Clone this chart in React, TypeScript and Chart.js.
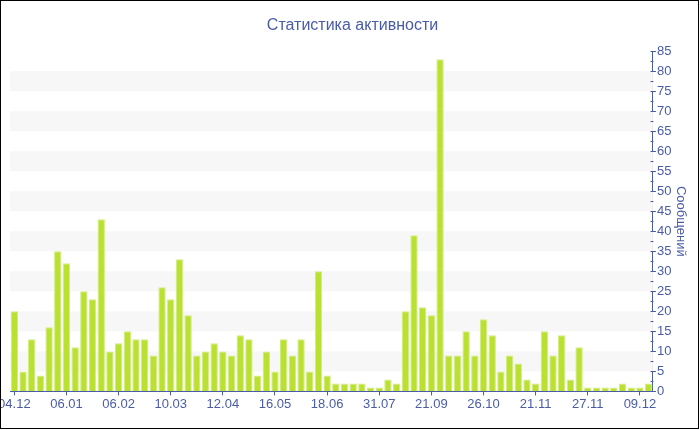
import React, { useEffect, useRef } from "react";
import { Chart, registerables } from "chart.js";

Chart.register(...registerables);

const chartTitle = "Статистика активности";
const yAxisTitle = "Сообщений";
const tickLabels = ["04.12", "06.01", "06.02", "10.03", "12.04", "16.05", "18.06", "31.07", "21.09", "26.10", "21.11", "27.11", "09.12"];
const labelEvery = 6;
const messages = [
  20, 5, 13, 4, 16, 35, 32, 11, 25, 23, 43, 10, 12, 15, 13, 13, 9, 26, 23, 33,
  19, 9, 10, 12, 10, 9, 14, 13, 4, 10, 5, 13, 9, 13, 5, 30, 4, 2, 2, 2,
  2, 1, 1, 3, 2, 20, 39, 21, 19, 83, 9, 9, 15, 9, 18, 14, 5, 9, 7, 3,
  2, 15, 9, 14, 3, 11, 1, 1, 1, 1, 2, 1, 1, 2,
];
const categories = messages.map((_, i) => (i % labelEvery === 0 ? tickLabels[i / labelEvery] : ""));
const yMin = 0;
const yMax = 85;
const yStep = 5;

const AXIS = "#4a5ca8";
const FONT = "'Liberation Sans', Arial, sans-serif";

const bandsPlugin = {
  id: "bands",
  beforeDatasetsDraw(chart: any) {
    const { ctx, chartArea, scales } = chart;
    const y = scales.y;
    ctx.save();
    ctx.fillStyle = "#f7f7f7";
    for (let v = yStep; v < yMax; v += yStep * 2) {
      const top = y.getPixelForValue(v + yStep);
      const bottom = y.getPixelForValue(v);
      ctx.fillRect(chartArea.left, top, chartArea.right - chartArea.left, bottom - top);
    }
    ctx.restore();
  },
};

const minorTicksPlugin = {
  id: "minorTicks",
  afterDraw(chart: any) {
    const { ctx, scales } = chart;
    const y = scales.y;
    const x0 = Math.round(y.left) + 0.5;
    ctx.save();
    ctx.strokeStyle = AXIS;
    ctx.lineWidth = 1;
    ctx.beginPath();
    for (let v = yMin; v <= yMax; v += yStep / 2) {
      const py = Math.round(y.getPixelForValue(v)) + 0.5;
      ctx.moveTo(x0 - 3, py);
      ctx.lineTo(x0, py);
    }
    ctx.stroke();
    ctx.restore();
  },
};

export default function App() {
  const ref = useRef<HTMLCanvasElement>(null);
  useEffect(() => {
    document.body.style.margin = "0";
    const chart = new Chart(ref.current!, {
      type: "bar",
      data: {
        labels: categories,
        datasets: [
          {
            data: messages,
            backgroundColor: "#bae031",
            borderColor: "#d2ec80",
            borderWidth: 1,
            categoryPercentage: 1,
            barPercentage: 0.85,
          },
        ],
      },
      options: {
        animation: false,
        responsive: false,
        maintainAspectRatio: false,
        layout: { padding: { left: 9, right: 3, top: 0, bottom: 15 } },
        plugins: {
          legend: { display: false },
          tooltip: { enabled: false },
          title: {
            display: true,
            text: chartTitle,
            color: AXIS,
            font: { family: FONT, size: 16, weight: "normal" },
            padding: { top: 15, bottom: 16 },
          },
        },
        scales: {
          x: {
            type: "category",
            offset: true,
            grid: { drawOnChartArea: false, drawTicks: true, tickLength: 4, offset: false, color: AXIS },
            border: { color: AXIS },
            ticks: { color: AXIS, font: { family: FONT, size: 13 }, autoSkip: false, maxRotation: 0, padding: 1 },
            afterBuildTicks: (scale: any) => {
              scale.ticks = scale.ticks.filter((_: any, i: number) => i % labelEvery === 0);
            },
            afterFit: (scale: any) => {
              scale.paddingLeft = 0;
              scale.paddingRight = 0;
            },
          },
          y: {
            position: "right",
            min: yMin,
            max: yMax,
            grid: { drawOnChartArea: false, drawTicks: true, tickLength: 3, color: AXIS },
            border: { color: AXIS },
            ticks: { stepSize: yStep, color: AXIS, font: { family: FONT, size: 13 }, padding: 1 },
            title: {
              display: true,
              text: yAxisTitle,
              color: AXIS,
              font: { family: FONT, size: 13 },
              padding: { top: 7, bottom: 0 },
            },
          },
        },
      } as any,
      plugins: [bandsPlugin, minorTicksPlugin],
    });
    return () => chart.destroy();
  }, []);
  return (
    <div
      style={{
        position: "absolute",
        left: 0,
        top: 0,
        width: 699,
        height: 429,
        border: "1px solid #000",
        boxSizing: "border-box",
        background: "#fff",
      }}
    >
      <canvas ref={ref} width={697} height={427} style={{ display: "block" }} />
    </div>
  );
}
